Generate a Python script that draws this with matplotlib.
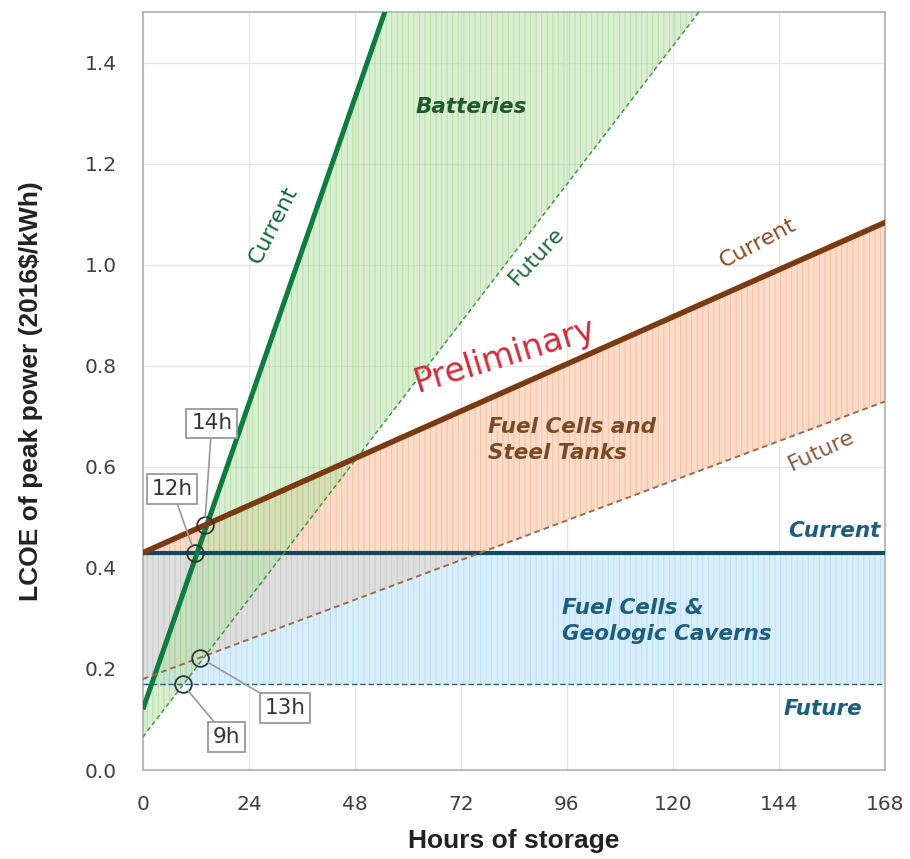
import numpy as np
import matplotlib
matplotlib.use("Agg")
import matplotlib.pyplot as plt

# ---- data ----
bat_cur_b, bat_cur_m = 0.12, 0.0252      # intercept, slope (2016$/kWh per hour)
bat_fut_b, bat_fut_m = 0.065, 0.0114
st_cur_b, st_cur_m = 0.43, 0.00389
st_fut_b, st_fut_m = 0.18, 0.00327
geo_cur = 0.43
geo_fut = 0.17

xticks = [0, 24, 48, 72, 96, 120, 144, 168]
yticks = [0.0, 0.2, 0.4, 0.6, 0.8, 1.0, 1.2, 1.4]

crossings = {"14h": (14, 0.484), "12h": (11.7, 0.43), "13h": (13, 0.222), "9h": (9, 0.17)}
box_pos = {"14h": (15.6, 0.686), "12h": (6.6, 0.556), "13h": (32.2, 0.123), "9h": (19.0, 0.065)}

x = np.linspace(0, 168, 800)
bat_cur = bat_cur_b + bat_cur_m * x
bat_fut = bat_fut_b + bat_fut_m * x
st_cur = st_cur_b + st_cur_m * x
st_fut = st_fut_b + st_fut_m * x

plt.rcParams['hatch.linewidth'] = 0.7
fig = plt.figure(figsize=(9.10, 8.59), dpi=100)
ax = fig.add_axes([0.157, 0.1036, 0.8155, 0.8824])
ax.set_xlim(0, 168)
ax.set_ylim(0, 1.5)

dv = ["DejaVu Sans"]
ax.set_xticks(xticks)
ax.set_yticks(yticks)
ax.set_yticklabels([f"{v:.1f}" for v in yticks])
ax.grid(True, color="#e6e6e6", linewidth=1.0)
ax.set_axisbelow(True)
for s in ax.spines.values():
    s.set_color("#b0b0b0")
    s.set_linewidth(1.2)
ax.tick_params(length=0, labelsize=14.5, colors="#404040")
ax.tick_params(axis="y", pad=19)
ax.tick_params(axis="x", pad=18)

# fills
lower_o = np.maximum(st_fut, geo_cur)
ax.fill_between(x, lower_o, st_cur, facecolor="#fbdcc9", edgecolor="#f3c0a2",
                hatch="|||", linewidth=0, zorder=1)
ov = st_fut < geo_cur
ax.fill_between(x, np.maximum(st_fut, geo_fut), geo_cur, where=ov, facecolor="#dedede",
                edgecolor="#cbcbcb", hatch="|||", linewidth=0, zorder=1)
ax.fill_between(x, geo_fut, np.minimum(st_fut, geo_cur), facecolor="#d8eefa", edgecolor="#c0e0f3",
                hatch="|||", linewidth=0, zorder=1)
ax.fill_between(x, bat_fut, np.minimum(bat_cur, 1.6), facecolor="#b6e0a5", edgecolor="#8fcf7f",
                hatch="|||", linewidth=0, alpha=0.5, zorder=1)

# lines
ax.plot(x, bat_cur, color="#0b7d3e", lw=3.6, zorder=4, solid_capstyle="butt")
ax.plot(x, bat_fut, color="#3e9a4e", lw=1.1, ls=(0, (3, 2)), zorder=4)
ax.plot(x, st_cur, color="#7a3a12", lw=4.0, zorder=4)
ax.plot(x, st_fut, color="#a0694a", lw=1.4, ls=(0, (3, 2)), zorder=4)
ax.axhline(geo_cur, color="#0d4a66", lw=3.0, zorder=3)
ax.axhline(geo_fut, color="#1f5f80", lw=1.0, ls=(0, (4, 2)), zorder=3)

ax.text(29.6, 1.078, "Current", color="#0c6a34", fontsize=16, family=dv,
        rotation=63, ha="center", va="center", rotation_mode="anchor")
ax.text(89.2, 1.018, "Future", color="#1f6a3a", fontsize=16, family=dv,
        rotation=47, ha="center", va="center", rotation_mode="anchor")
ax.text(139.2, 1.042, "Current", color="#8a4a22", fontsize=16, family=dv,
        rotation=28, ha="center", va="center", rotation_mode="anchor")
ax.text(153.7, 0.633, "Future", color="#8a5a3a", fontsize=16, family=dv,
        rotation=25, ha="center", va="center", rotation_mode="anchor")
ax.text(166.9, 0.473, "Current", color="#1b5e80", fontsize=15.5, family=dv,
        fontweight="bold", fontstyle="italic", ha="right", va="center")
ax.text(154, 0.121, "Future", color="#1b5e80", fontsize=15.5, family=dv,
        fontweight="bold", fontstyle="italic", ha="center", va="center")

ax.text(74.3, 1.313, "Batteries", color="#1d5a2e", fontsize=15.5, family=dv,
        fontweight="bold", fontstyle="italic", ha="center", va="center")
ax.text(78.1, 0.653, "Fuel Cells and\nSteel Tanks", color="#7a4a28", fontsize=15.5, family=dv,
        fontweight="bold", fontstyle="italic", ha="left", va="center", linespacing=1.35)
ax.text(94.9, 0.295, "Fuel Cells &\nGeologic Caverns", color="#1b5e80", fontsize=15.5, family=dv,
        fontweight="bold", fontstyle="italic", ha="left", va="center", linespacing=1.35)
ax.text(82, 0.82, "Preliminary", color="#d42a3a", fontsize=24, family=dv,
        rotation=17, ha="center", va="center", rotation_mode="anchor")

# crossings
for k, (cx, cy) in crossings.items():
    ax.plot([cx], [cy], marker="o", ms=12, mfc="none", mec="#333333", mew=1.3, zorder=6)
    bx, by = box_pos[k]
    ax.annotate(k, xy=(cx, cy), xytext=(bx, by), fontsize=15.5, color="#333333", family=dv,
                ha="center", va="center", zorder=7,
                bbox=dict(boxstyle="square,pad=0.22", fc="white", ec="#999999", lw=1.3),
                arrowprops=dict(arrowstyle="-", color="#999999", lw=1.2, shrinkA=0, shrinkB=6))

lab = ["Liberation Sans", "DejaVu Sans"]
ax.set_xlabel("Hours of storage", fontsize=19, fontweight="bold", family=lab, labelpad=11, color="#222222")
ax.set_ylabel("LCOE of peak power (2016$/kWh)", fontsize=19, fontweight="bold", family=lab,
              labelpad=30, color="#222222")

fig.savefig("out.png", dpi=100)
